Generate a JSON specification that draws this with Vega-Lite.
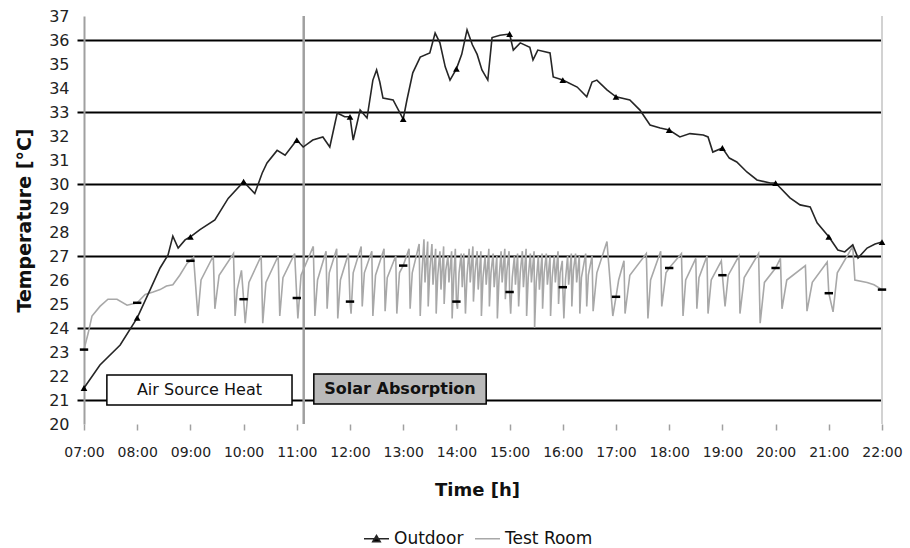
{
  "$schema": "https://vega.github.io/schema/vega-lite/v6.json",
  "width": 798,
  "height": 408,
  "autosize": {"type": "none"},
  "padding": {"left": 84, "top": 16, "right": 28, "bottom": 124},
  "background": "white",
  "config": {"view": {"stroke": null}, "font": "DejaVu Sans"},
  "datasets": {
    "notes": [
      {"label": "Air Source Heat", "t": 7.43, "t2": 10.91, "v": 20.79, "v2": 22.04, "tc": 9.17, "vc": 21.42},
      {"label": "Solar Absorption", "t": 11.32, "t2": 14.56, "v": 20.83, "v2": 22.08, "tc": 12.94, "vc": 21.45}
    ],
    "series": [
      {"s": "Test Room", "t": 7, "v": 23.1}, {"s": "Test Room", "t": 7.08, "v": 23.8}, {"s": "Test Room", "t": 7.15, "v": 24.5}, {"s": "Test Room", "t": 7.3, "v": 24.9}, {"s": "Test Room", "t": 7.45, "v": 25.2}, {"s": "Test Room", "t": 7.62, "v": 25.2}, {"s": "Test Room", "t": 7.81, "v": 24.95}, {"s": "Test Room", "t": 8, "v": 25.05}, {"s": "Test Room", "t": 8.15, "v": 25.4}, {"s": "Test Room", "t": 8.3, "v": 25.5}, {"s": "Test Room", "t": 8.43, "v": 25.6}, {"s": "Test Room", "t": 8.55, "v": 25.75}, {"s": "Test Room", "t": 8.67, "v": 25.8}, {"s": "Test Room", "t": 8.8, "v": 26.2}, {"s": "Test Room", "t": 8.94, "v": 26.7}, {"s": "Test Room", "t": 9, "v": 26.8}, {"s": "Test Room", "t": 9.06, "v": 26.95},
      {"s": "Test Room", "t": 9.14, "v": 24.5}, {"s": "Test Room", "t": 9.2, "v": 26.0}, {"s": "Test Room", "t": 9.43, "v": 27.0},
      {"s": "Test Room", "t": 9.46, "v": 24.8}, {"s": "Test Room", "t": 9.54, "v": 26.2}, {"s": "Test Room", "t": 9.81, "v": 27.1},
      {"s": "Test Room", "t": 9.84, "v": 24.5}, {"s": "Test Room", "t": 9.88, "v": 25.6}, {"s": "Test Room", "t": 9.96, "v": 26.4}, {"s": "Test Room", "t": 10, "v": 25.2},
      {"s": "Test Room", "t": 10.03, "v": 24.2}, {"s": "Test Room", "t": 10.1, "v": 25.9}, {"s": "Test Room", "t": 10.33, "v": 27.0},
      {"s": "Test Room", "t": 10.36, "v": 24.2}, {"s": "Test Room", "t": 10.42, "v": 25.9}, {"s": "Test Room", "t": 10.65, "v": 27.0},
      {"s": "Test Room", "t": 10.68, "v": 24.5}, {"s": "Test Room", "t": 10.74, "v": 26.1}, {"s": "Test Room", "t": 10.96, "v": 27.1}, {"s": "Test Room", "t": 11, "v": 25.25},
      {"s": "Test Room", "t": 11.02, "v": 24.4}, {"s": "Test Room", "t": 11.08, "v": 26.2}, {"s": "Test Room", "t": 11.31, "v": 27.4},
      {"s": "Test Room", "t": 11.34, "v": 24.5}, {"s": "Test Room", "t": 11.39, "v": 26.0}, {"s": "Test Room", "t": 11.55, "v": 27.2},
      {"s": "Test Room", "t": 11.57, "v": 24.8}, {"s": "Test Room", "t": 11.61, "v": 26.3}, {"s": "Test Room", "t": 11.75, "v": 27.3},
      {"s": "Test Room", "t": 11.77, "v": 24.4}, {"s": "Test Room", "t": 11.82, "v": 26.0}, {"s": "Test Room", "t": 11.97, "v": 27.1}, {"s": "Test Room", "t": 12, "v": 25.1},
      {"s": "Test Room", "t": 12.02, "v": 24.6}, {"s": "Test Room", "t": 12.06, "v": 26.3}, {"s": "Test Room", "t": 12.21, "v": 27.4},
      {"s": "Test Room", "t": 12.23, "v": 24.9}, {"s": "Test Room", "t": 12.27, "v": 26.3}, {"s": "Test Room", "t": 12.41, "v": 27.2},
      {"s": "Test Room", "t": 12.43, "v": 24.5}, {"s": "Test Room", "t": 12.48, "v": 26.2}, {"s": "Test Room", "t": 12.64, "v": 27.3},
      {"s": "Test Room", "t": 12.66, "v": 24.7}, {"s": "Test Room", "t": 12.7, "v": 26.1}, {"s": "Test Room", "t": 12.86, "v": 27.0},
      {"s": "Test Room", "t": 12.88, "v": 24.6}, {"s": "Test Room", "t": 12.93, "v": 26.3}, {"s": "Test Room", "t": 13, "v": 26.6}, {"s": "Test Room", "t": 13.11, "v": 27.3},
      {"s": "Test Room", "t": 13.13, "v": 24.8}, {"s": "Test Room", "t": 13.17, "v": 26.3}, {"s": "Test Room", "t": 13.3, "v": 27.5},
      {"s": "Test Room", "t": 13.32, "v": 24.5}, {"s": "Test Room", "t": 13.35, "v": 26.2}, {"s": "Test Room", "t": 13.39, "v": 27.7}, {"s": "Test Room", "t": 13.41, "v": 25.9}, {"s": "Test Room", "t": 13.46, "v": 27.6},
      {"s": "Test Room", "t": 13.47, "v": 24.9}, {"s": "Test Room", "t": 13.5, "v": 26.4}, {"s": "Test Room", "t": 13.54, "v": 27.5}, {"s": "Test Room", "t": 13.56, "v": 25.8}, {"s": "Test Room", "t": 13.61, "v": 27.3},
      {"s": "Test Room", "t": 13.62, "v": 24.6}, {"s": "Test Room", "t": 13.65, "v": 26.2}, {"s": "Test Room", "t": 13.69, "v": 27.2}, {"s": "Test Room", "t": 13.71, "v": 25.6}, {"s": "Test Room", "t": 13.76, "v": 27.4},
      {"s": "Test Room", "t": 13.77, "v": 25.0}, {"s": "Test Room", "t": 13.8, "v": 26.4}, {"s": "Test Room", "t": 13.84, "v": 27.0}, {"s": "Test Room", "t": 13.86, "v": 25.9}, {"s": "Test Room", "t": 13.91, "v": 27.2},
      {"s": "Test Room", "t": 13.92, "v": 24.4}, {"s": "Test Room", "t": 13.95, "v": 26.1}, {"s": "Test Room", "t": 13.98, "v": 27.3}, {"s": "Test Room", "t": 14, "v": 25.1},
      {"s": "Test Room", "t": 14.02, "v": 24.8}, {"s": "Test Room", "t": 14.05, "v": 26.3}, {"s": "Test Room", "t": 14.09, "v": 27.1}, {"s": "Test Room", "t": 14.11, "v": 25.7}, {"s": "Test Room", "t": 14.14, "v": 27.1},
      {"s": "Test Room", "t": 14.17, "v": 24.6}, {"s": "Test Room", "t": 14.2, "v": 26.2}, {"s": "Test Room", "t": 14.24, "v": 27.3}, {"s": "Test Room", "t": 14.26, "v": 25.9}, {"s": "Test Room", "t": 14.31, "v": 27.4},
      {"s": "Test Room", "t": 14.32, "v": 25.1}, {"s": "Test Room", "t": 14.35, "v": 26.3}, {"s": "Test Room", "t": 14.39, "v": 27.2}, {"s": "Test Room", "t": 14.41, "v": 25.6}, {"s": "Test Room", "t": 14.46, "v": 27.2},
      {"s": "Test Room", "t": 14.47, "v": 24.5}, {"s": "Test Room", "t": 14.5, "v": 26.1}, {"s": "Test Room", "t": 14.54, "v": 27.0}, {"s": "Test Room", "t": 14.56, "v": 25.8}, {"s": "Test Room", "t": 14.61, "v": 27.3},
      {"s": "Test Room", "t": 14.62, "v": 24.9}, {"s": "Test Room", "t": 14.65, "v": 26.3}, {"s": "Test Room", "t": 14.69, "v": 27.1}, {"s": "Test Room", "t": 14.71, "v": 25.7}, {"s": "Test Room", "t": 14.76, "v": 27.0},
      {"s": "Test Room", "t": 14.77, "v": 24.4}, {"s": "Test Room", "t": 14.8, "v": 26.0}, {"s": "Test Room", "t": 14.84, "v": 27.2}, {"s": "Test Room", "t": 14.86, "v": 25.9}, {"s": "Test Room", "t": 14.91, "v": 27.3},
      {"s": "Test Room", "t": 14.92, "v": 25.2}, {"s": "Test Room", "t": 14.95, "v": 26.4}, {"s": "Test Room", "t": 14.99, "v": 27.2}, {"s": "Test Room", "t": 15, "v": 25.5},
      {"s": "Test Room", "t": 15.02, "v": 24.6}, {"s": "Test Room", "t": 15.05, "v": 26.1}, {"s": "Test Room", "t": 15.09, "v": 27.0}, {"s": "Test Room", "t": 15.11, "v": 25.8}, {"s": "Test Room", "t": 15.15, "v": 27.1},
      {"s": "Test Room", "t": 15.17, "v": 24.9}, {"s": "Test Room", "t": 15.2, "v": 26.3}, {"s": "Test Room", "t": 15.24, "v": 27.2}, {"s": "Test Room", "t": 15.26, "v": 25.7}, {"s": "Test Room", "t": 15.31, "v": 27.3},
      {"s": "Test Room", "t": 15.32, "v": 24.5}, {"s": "Test Room", "t": 15.35, "v": 26.1}, {"s": "Test Room", "t": 15.39, "v": 27.1}, {"s": "Test Room", "t": 15.41, "v": 25.9}, {"s": "Test Room", "t": 15.46, "v": 27.2},
      {"s": "Test Room", "t": 15.47, "v": 24.0}, {"s": "Test Room", "t": 15.5, "v": 25.9}, {"s": "Test Room", "t": 15.54, "v": 27.0}, {"s": "Test Room", "t": 15.56, "v": 25.6}, {"s": "Test Room", "t": 15.61, "v": 27.1},
      {"s": "Test Room", "t": 15.62, "v": 24.8}, {"s": "Test Room", "t": 15.65, "v": 26.3}, {"s": "Test Room", "t": 15.69, "v": 27.1}, {"s": "Test Room", "t": 15.71, "v": 25.8}, {"s": "Test Room", "t": 15.76, "v": 27.0},
      {"s": "Test Room", "t": 15.77, "v": 24.5}, {"s": "Test Room", "t": 15.8, "v": 26.1}, {"s": "Test Room", "t": 15.84, "v": 27.0}, {"s": "Test Room", "t": 15.86, "v": 25.9}, {"s": "Test Room", "t": 15.91, "v": 27.2},
      {"s": "Test Room", "t": 15.92, "v": 25.0}, {"s": "Test Room", "t": 15.95, "v": 26.3}, {"s": "Test Room", "t": 15.99, "v": 26.8}, {"s": "Test Room", "t": 16, "v": 25.7},
      {"s": "Test Room", "t": 16.02, "v": 24.4}, {"s": "Test Room", "t": 16.05, "v": 26.0}, {"s": "Test Room", "t": 16.09, "v": 27.0}, {"s": "Test Room", "t": 16.11, "v": 25.8}, {"s": "Test Room", "t": 16.16, "v": 27.1},
      {"s": "Test Room", "t": 16.17, "v": 24.9}, {"s": "Test Room", "t": 16.2, "v": 26.4}, {"s": "Test Room", "t": 16.24, "v": 27.1}, {"s": "Test Room", "t": 16.26, "v": 25.9}, {"s": "Test Room", "t": 16.31, "v": 27.0},
      {"s": "Test Room", "t": 16.32, "v": 24.6}, {"s": "Test Room", "t": 16.35, "v": 26.1}, {"s": "Test Room", "t": 16.43, "v": 27.1},
      {"s": "Test Room", "t": 16.45, "v": 24.9}, {"s": "Test Room", "t": 16.48, "v": 26.2}, {"s": "Test Room", "t": 16.55, "v": 27.0},
      {"s": "Test Room", "t": 16.57, "v": 24.7}, {"s": "Test Room", "t": 16.64, "v": 26.3}, {"s": "Test Room", "t": 16.83, "v": 27.6},
      {"s": "Test Room", "t": 16.94, "v": 24.5}, {"s": "Test Room", "t": 17, "v": 25.3}, {"s": "Test Room", "t": 17.05, "v": 26.0}, {"s": "Test Room", "t": 17.15, "v": 26.8},
      {"s": "Test Room", "t": 17.17, "v": 24.6}, {"s": "Test Room", "t": 17.26, "v": 26.2}, {"s": "Test Room", "t": 17.57, "v": 27.1},
      {"s": "Test Room", "t": 17.6, "v": 24.4}, {"s": "Test Room", "t": 17.65, "v": 26.0}, {"s": "Test Room", "t": 17.84, "v": 27.2},
      {"s": "Test Room", "t": 17.86, "v": 24.9}, {"s": "Test Room", "t": 17.94, "v": 26.3}, {"s": "Test Room", "t": 18, "v": 26.5}, {"s": "Test Room", "t": 18.23, "v": 27.1},
      {"s": "Test Room", "t": 18.26, "v": 24.5}, {"s": "Test Room", "t": 18.31, "v": 26.0}, {"s": "Test Room", "t": 18.5, "v": 26.9},
      {"s": "Test Room", "t": 18.52, "v": 24.8}, {"s": "Test Room", "t": 18.56, "v": 26.1}, {"s": "Test Room", "t": 18.71, "v": 27.0},
      {"s": "Test Room", "t": 18.73, "v": 24.6}, {"s": "Test Room", "t": 18.79, "v": 26.0}, {"s": "Test Room", "t": 18.98, "v": 26.8}, {"s": "Test Room", "t": 19, "v": 26.2},
      {"s": "Test Room", "t": 19.05, "v": 24.9}, {"s": "Test Room", "t": 19.11, "v": 26.2}, {"s": "Test Room", "t": 19.31, "v": 27.0},
      {"s": "Test Room", "t": 19.33, "v": 24.6}, {"s": "Test Room", "t": 19.41, "v": 26.1}, {"s": "Test Room", "t": 19.68, "v": 27.1},
      {"s": "Test Room", "t": 19.71, "v": 24.2}, {"s": "Test Room", "t": 19.79, "v": 25.9}, {"s": "Test Room", "t": 20, "v": 26.5}, {"s": "Test Room", "t": 20.09, "v": 26.9},
      {"s": "Test Room", "t": 20.12, "v": 24.8}, {"s": "Test Room", "t": 20.21, "v": 26.0}, {"s": "Test Room", "t": 20.56, "v": 26.6},
      {"s": "Test Room", "t": 20.59, "v": 24.7}, {"s": "Test Room", "t": 20.69, "v": 25.9}, {"s": "Test Room", "t": 20.97, "v": 26.75}, {"s": "Test Room", "t": 21, "v": 25.45},
      {"s": "Test Room", "t": 21.08, "v": 24.67}, {"s": "Test Room", "t": 21.16, "v": 26.3}, {"s": "Test Room", "t": 21.45, "v": 27.4},
      {"s": "Test Room", "t": 21.49, "v": 26.0}, {"s": "Test Room", "t": 21.72, "v": 25.9}, {"s": "Test Room", "t": 21.85, "v": 25.8}, {"s": "Test Room", "t": 22, "v": 25.6},
      {"s": "Outdoor", "t": 7, "v": 21.5}, {"s": "Outdoor", "t": 7.3, "v": 22.46}, {"s": "Outdoor", "t": 7.68, "v": 23.29}, {"s": "Outdoor", "t": 8, "v": 24.42}, {"s": "Outdoor", "t": 8.24, "v": 25.58}, {"s": "Outdoor", "t": 8.43, "v": 26.5}, {"s": "Outdoor", "t": 8.58, "v": 27.04}, {"s": "Outdoor", "t": 8.67, "v": 27.83}, {"s": "Outdoor", "t": 8.77, "v": 27.33}, {"s": "Outdoor", "t": 8.9, "v": 27.67}, {"s": "Outdoor", "t": 9, "v": 27.8}, {"s": "Outdoor", "t": 9.18, "v": 28.1}, {"s": "Outdoor", "t": 9.46, "v": 28.5}, {"s": "Outdoor", "t": 9.71, "v": 29.4}, {"s": "Outdoor", "t": 10, "v": 30.1}, {"s": "Outdoor", "t": 10.21, "v": 29.6}, {"s": "Outdoor", "t": 10.35, "v": 30.46}, {"s": "Outdoor", "t": 10.44, "v": 30.88}, {"s": "Outdoor", "t": 10.63, "v": 31.4}, {"s": "Outdoor", "t": 10.78, "v": 31.2}, {"s": "Outdoor", "t": 11, "v": 31.83}, {"s": "Outdoor", "t": 11.12, "v": 31.54}, {"s": "Outdoor", "t": 11.3, "v": 31.83}, {"s": "Outdoor", "t": 11.49, "v": 31.96}, {"s": "Outdoor", "t": 11.62, "v": 31.54}, {"s": "Outdoor", "t": 11.76, "v": 32.96}, {"s": "Outdoor", "t": 11.9, "v": 32.8}, {"s": "Outdoor", "t": 12, "v": 32.8}, {"s": "Outdoor", "t": 12.06, "v": 31.83}, {"s": "Outdoor", "t": 12.19, "v": 33.08}, {"s": "Outdoor", "t": 12.32, "v": 32.75}, {"s": "Outdoor", "t": 12.43, "v": 34.33}, {"s": "Outdoor", "t": 12.5, "v": 34.75}, {"s": "Outdoor", "t": 12.56, "v": 34.25}, {"s": "Outdoor", "t": 12.62, "v": 33.58}, {"s": "Outdoor", "t": 12.81, "v": 33.5}, {"s": "Outdoor", "t": 13, "v": 32.7}, {"s": "Outdoor", "t": 13.07, "v": 33.5}, {"s": "Outdoor", "t": 13.18, "v": 34.63}, {"s": "Outdoor", "t": 13.32, "v": 35.29}, {"s": "Outdoor", "t": 13.5, "v": 35.46}, {"s": "Outdoor", "t": 13.6, "v": 36.29}, {"s": "Outdoor", "t": 13.69, "v": 35.88}, {"s": "Outdoor", "t": 13.79, "v": 34.88}, {"s": "Outdoor", "t": 13.88, "v": 34.33}, {"s": "Outdoor", "t": 14, "v": 34.8}, {"s": "Outdoor", "t": 14.1, "v": 35.4}, {"s": "Outdoor", "t": 14.2, "v": 36.42}, {"s": "Outdoor", "t": 14.3, "v": 35.8}, {"s": "Outdoor", "t": 14.39, "v": 35.4}, {"s": "Outdoor", "t": 14.48, "v": 34.75}, {"s": "Outdoor", "t": 14.59, "v": 34.33}, {"s": "Outdoor", "t": 14.67, "v": 36.1}, {"s": "Outdoor", "t": 14.82, "v": 36.2}, {"s": "Outdoor", "t": 15, "v": 36.25}, {"s": "Outdoor", "t": 15.07, "v": 35.58}, {"s": "Outdoor", "t": 15.2, "v": 35.88}, {"s": "Outdoor", "t": 15.38, "v": 35.7}, {"s": "Outdoor", "t": 15.44, "v": 35.17}, {"s": "Outdoor", "t": 15.53, "v": 35.58}, {"s": "Outdoor", "t": 15.76, "v": 35.46}, {"s": "Outdoor", "t": 15.82, "v": 34.46}, {"s": "Outdoor", "t": 16, "v": 34.33}, {"s": "Outdoor", "t": 16.27, "v": 34.04}, {"s": "Outdoor", "t": 16.45, "v": 33.63}, {"s": "Outdoor", "t": 16.55, "v": 34.25}, {"s": "Outdoor", "t": 16.64, "v": 34.33}, {"s": "Outdoor", "t": 16.83, "v": 33.92}, {"s": "Outdoor", "t": 17, "v": 33.63}, {"s": "Outdoor", "t": 17.26, "v": 33.5}, {"s": "Outdoor", "t": 17.45, "v": 33.08}, {"s": "Outdoor", "t": 17.64, "v": 32.46}, {"s": "Outdoor", "t": 17.83, "v": 32.33}, {"s": "Outdoor", "t": 18, "v": 32.25}, {"s": "Outdoor", "t": 18.2, "v": 31.96}, {"s": "Outdoor", "t": 18.39, "v": 32.1}, {"s": "Outdoor", "t": 18.64, "v": 32.04}, {"s": "Outdoor", "t": 18.73, "v": 31.96}, {"s": "Outdoor", "t": 18.82, "v": 31.33}, {"s": "Outdoor", "t": 19, "v": 31.5}, {"s": "Outdoor", "t": 19.13, "v": 31.08}, {"s": "Outdoor", "t": 19.27, "v": 30.92}, {"s": "Outdoor", "t": 19.46, "v": 30.5}, {"s": "Outdoor", "t": 19.65, "v": 30.17}, {"s": "Outdoor", "t": 19.9, "v": 30.04}, {"s": "Outdoor", "t": 20, "v": 30.04}, {"s": "Outdoor", "t": 20.27, "v": 29.42}, {"s": "Outdoor", "t": 20.46, "v": 29.13}, {"s": "Outdoor", "t": 20.65, "v": 29.04}, {"s": "Outdoor", "t": 20.78, "v": 28.38}, {"s": "Outdoor", "t": 21, "v": 27.8}, {"s": "Outdoor", "t": 21.17, "v": 27.25}, {"s": "Outdoor", "t": 21.3, "v": 27.17}, {"s": "Outdoor", "t": 21.45, "v": 27.46}, {"s": "Outdoor", "t": 21.55, "v": 26.92}, {"s": "Outdoor", "t": 21.72, "v": 27.33}, {"s": "Outdoor", "t": 21.87, "v": 27.5}, {"s": "Outdoor", "t": 22, "v": 27.58}
    ]
  },
  "layer": [
    {
      "data": {"values": [{"t": 11.13}]},
      "mark": {"type": "rule", "color": "#a0a0a0", "strokeWidth": 2.5},
      "encoding": {
        "x": {
          "field": "t", "type": "quantitative",
          "scale": {"domain": [7, 22], "nice": false, "zero": false},
          "axis": {
            "title": "Time [h]",
            "values": [7, 8, 9, 10, 11, 12, 13, 14, 15, 16, 17, 18, 19, 20, 21, 22],
            "tickCount": 40,
            "labelExpr": "(datum.value < 10 ? '0' : '') + datum.value + ':00'",
            "labelFont": "DejaVu Sans", "labelFontSize": 14, "labelColor": "#222",
            "labelPadding": 15, "labelFlush": false, "labelOverlap": false,
            "tickSize": 6, "tickColor": "#a0a0a0", "tickWidth": 1.5,
            "domain": false, "grid": false,
            "titleFont": "DejaVu Sans", "titleFontSize": 18, "titleFontWeight": "bold", "titleColor": "#111",
            "titleX": 393, "titleY": 66, "titleBaseline": "middle", "titleAlign": "center"
          }
        }
      }
    },
    {
      "data": {"values": [{"t": 22}]},
      "mark": {"type": "rule", "color": "#d2d2d2", "strokeWidth": 2},
      "encoding": {"x": {"field": "t", "type": "quantitative"}}
    },
    {
      "data": {"name": "series"},
      "mark": {"type": "line", "strokeWidth": 1.6},
      "encoding": {
        "x": {"field": "t", "type": "quantitative"},
        "y": {
          "field": "v", "type": "quantitative",
          "scale": {"domain": [20, 37], "nice": false, "zero": false},
          "axis": {
            "title": "Temperature [°C]",
            "values": [20, 21, 22, 23, 24, 25, 26, 27, 28, 29, 30, 31, 32, 33, 34, 35, 36, 37],
            "tickCount": 40,
            "format": "d",
            "labelFont": "DejaVu Sans", "labelFontSize": 16, "labelColor": "#222", "labelPadding": 8,
            "labelOverlap": false, "labelFlush": false, "labelBound": false,
            "ticks": true, "tickSize": 7, "tickColor": "#000", "tickWidth": 2,
            "tickOpacity": {"condition": {"test": "datum.value % 3 === 0", "value": 1}, "value": 0},
            "grid": true, "gridColor": "#000", "gridWidth": 2,
            "gridOpacity": {"condition": {"test": "datum.value % 3 === 0", "value": 1}, "value": 0},
            "domainColor": "#a0a0a0", "domainWidth": 2,
            "titleFont": "DejaVu Sans", "titleFontSize": 19, "titleFontWeight": "bold", "titleColor": "#111",
            "titleAngle": -90, "titleX": -60, "titleY": 204, "titleAlign": "center", "titleBaseline": "middle"
          }
        },
        "color": {
          "field": "s", "type": "nominal",
          "scale": {"domain": ["Outdoor", "Test Room"], "range": ["#262626", "#a8a8a8"]},
          "legend": {
            "orient": "none", "legendX": 279, "legendY": 509, "direction": "horizontal", "title": null,
            "labelFont": "DejaVu Sans", "labelFontSize": 17, "labelColor": "#111",
            "symbolSize": 625, "symbolStrokeWidth": 1.5, "columnPadding": 8, "labelOffset": 4,
            "encode": {
              "symbols": {
                "update": {
                  "shape": {"signal": "datum.value === 'Outdoor' ? 'M-1,0H1M-0.3,0.24L0,-0.26L0.3,0.24Z' : 'M-1,0H1M-0.25,0H0.25'"},
                  "fill": {"signal": "datum.value === 'Outdoor' ? '#000' : 'transparent'"}
                }
              }
            }
          }
        },
        "order": {"field": "t", "type": "quantitative"}
      }
    },
    {
      "data": {"name": "series"},
      "transform": [{"filter": "datum.s === 'Outdoor' && datum.t === floor(datum.t)"}],
      "mark": {"type": "point", "shape": "triangle-up", "filled": true, "color": "#000", "size": 45, "opacity": 1},
      "encoding": {"x": {"field": "t", "type": "quantitative"}, "y": {"field": "v", "type": "quantitative"}}
    },
    {
      "data": {"name": "series"},
      "transform": [{"filter": "datum.s === 'Test Room' && datum.t === floor(datum.t)"}],
      "mark": {"type": "point", "shape": "stroke", "filled": false, "color": "#000", "size": 70, "strokeWidth": 2.5, "opacity": 1},
      "encoding": {"x": {"field": "t", "type": "quantitative"}, "y": {"field": "v", "type": "quantitative"}}
    },
    {
      "data": {"name": "notes"},
      "mark": {"type": "rect", "stroke": "#000", "strokeWidth": 1.5},
      "encoding": {
        "x": {"field": "t", "type": "quantitative"},
        "x2": {"field": "t2"},
        "y": {"field": "v", "type": "quantitative"},
        "y2": {"field": "v2"},
        "fill": {"field": "label", "type": "nominal", "scale": {"domain": ["Air Source Heat", "Solar Absorption"], "range": ["#ffffff", "#b9b9b9"]}, "legend": null}
      }
    },
    {
      "data": {"name": "notes"},
      "transform": [{"filter": "datum.label === 'Air Source Heat'"}],
      "mark": {"type": "text", "font": "DejaVu Sans", "fontSize": 16, "color": "#111", "baseline": "middle", "align": "center"},
      "encoding": {"x": {"field": "tc", "type": "quantitative"}, "y": {"field": "vc", "type": "quantitative"}, "text": {"field": "label"}}
    },
    {
      "data": {"name": "notes"},
      "transform": [{"filter": "datum.label === 'Solar Absorption'"}],
      "mark": {"type": "text", "font": "DejaVu Sans", "fontSize": 16, "fontWeight": "bold", "color": "#111", "baseline": "middle", "align": "center"},
      "encoding": {"x": {"field": "tc", "type": "quantitative"}, "y": {"field": "vc", "type": "quantitative"}, "text": {"field": "label"}}
    }
  ]
}
